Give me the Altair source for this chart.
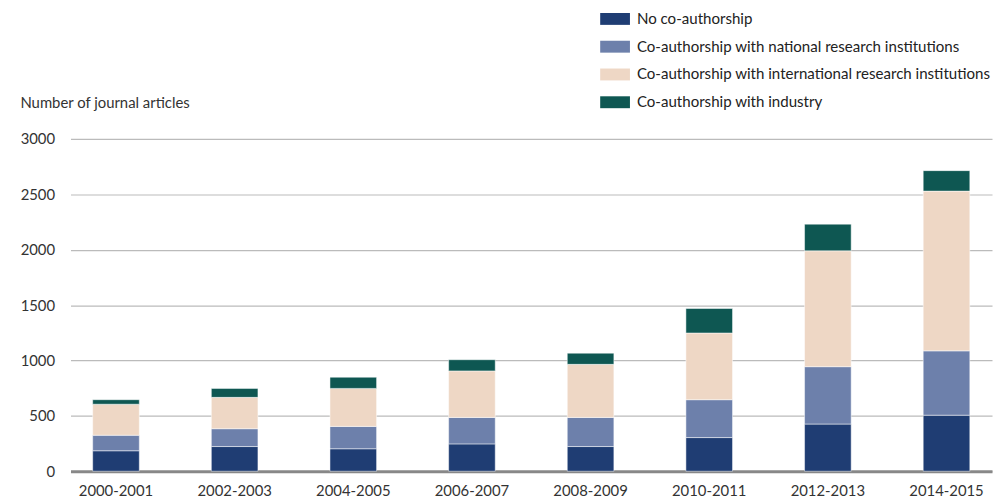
import altair as alt
import pandas as pd

periods = ["2000-2001", "2002-2003", "2004-2005", "2006-2007",
           "2008-2009", "2010-2011", "2012-2013", "2014-2015"]
series = ["No co-authorship",
          "Co-authorship with national research institutions",
          "Co-authorship with international research institutions",
          "Co-authorship with industry"]
no_coauth = [185, 223, 203, 247, 223, 304, 426, 506]
national = [140, 161, 202, 239, 263, 342, 518, 581]
international = [280, 283, 343, 420, 479, 602, 1046, 1442]
industry = [41, 81, 101, 101, 101, 221, 241, 185]
colors = ["#1f3d73", "#6d80ab", "#eed7c5", "#0e5752"]
y_ticks = [0, 500, 1000, 1500, 2000, 2500, 3000]

rows = []
for k, vals in enumerate([no_coauth, national, international, industry]):
    for p, v in zip(periods, vals):
        rows.append({"period": p, "series": series[k], "value": v, "idx": k})
df = pd.DataFrame(rows)

FONT = "Lato"

chart = alt.Chart(df).mark_bar(stroke="white", strokeWidth=0.5).encode(
    x=alt.X("period:N", sort=periods,
            scale=alt.Scale(paddingInner=0.607, paddingOuter=0.187),
            axis=alt.Axis(title=None, labelAngle=0, ticks=False,
                          domainColor="#888888", domainWidth=3,
                          labelPadding=12, labelFontSize=15, labelFont=FONT,
                          labelColor="#333333")),
    y=alt.Y("value:Q", stack="zero",
            scale=alt.Scale(domain=[0, 3000], nice=False),
            axis=alt.Axis(title="Number of journal articles", values=y_ticks,
                          format="d",
                          titleAngle=0, titleAlign="left", titleBaseline="middle",
                          titleX=-51, titleY=-37, titleFont=FONT,
                          titleFontSize=15, titleFontWeight="normal",
                          titleColor="#333333",
                          domain=False, ticks=False, labelPadding=16,
                          labelFontSize=15, labelFont=FONT, labelColor="#333333",
                          gridColor="#bbbbbb", gridWidth=1.2)),
    color=alt.Color("series:N", sort=series,
                    scale=alt.Scale(domain=series, range=colors),
                    legend=alt.Legend(title=None, orient="none",
                                      legendX=539, legendY=-131,
                                      symbolType="M-1.5,-0.6H1.5V0.6H-1.5Z",
                                      symbolSize=400, symbolStrokeWidth=0,
                                      labelFont=FONT, labelFontSize=15.2,
                                      labelColor="#222222", labelOffset=12,
                                      rowPadding=9, padding=0,
                                      labelLimit=500)),
    order=alt.Order("idx:Q", sort="ascending"),
).properties(
    width=929, height=335,
    autosize=alt.AutoSizeParams(type="none"),
    padding={"left": 63, "top": 130, "right": 1, "bottom": 30},
).configure_view(stroke=None)

chart.save("out.html", embed_options={"renderer": "svg", "actions": False})
